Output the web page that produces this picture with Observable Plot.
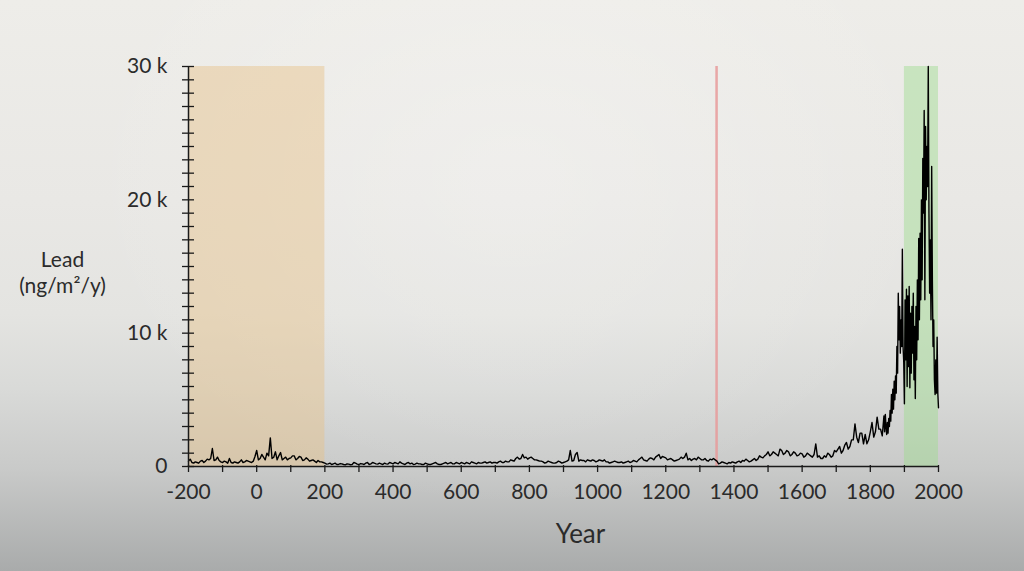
<!DOCTYPE html>
<html>
<head>
<meta charset="utf-8">
<script src="https://cdn.jsdelivr.net/npm/d3@7"></script>
<script src="https://cdn.jsdelivr.net/npm/@observablehq/plot@0.6"></script>
<style>
  html, body { margin: 0; padding: 0; }
  body {
    width: 1024px; height: 571px; overflow: hidden;
    background:
      radial-gradient(ellipse at 50% 30%, rgba(255,255,255,0.25) 0%, rgba(255,255,255,0) 60%),
      linear-gradient(to bottom, #eeede9 0%, #e9e8e5 35%, #e4e4e1 55%, #d9dad8 68%, #c9cac9 82%, #a9abab 100%);
  }
  #chart svg { display: block; }
</style>
</head>
<body>
<div id="chart"></div>
<script>
// Lead deposition (ng/m²/y), 5-year steps from -200 to 1840
const earlyStart = -200;
const earlyStep = 5;
const leadEarly = [
  // -200 .. 200
  400, 550, 300, 250, 350, 300, 250, 400, 450, 300,
  400, 550, 500, 600, 1350, 450, 500, 700, 450, 350,
  300, 400, 350, 250, 600, 300, 250, 350, 300, 250,
  350, 500, 300, 350, 450, 400, 350, 300, 400, 750,
  1200, 500, 600, 900, 700, 500, 1000, 800, 2150, 600,
  700, 1100, 500, 800, 1050, 500, 600, 700, 500, 600,
  650, 800, 800, 500, 600, 750, 700, 450, 500, 650,
  550, 400, 450, 500, 400, 300, 450, 350, 350, 300,
  250,
  // 205 .. 1800, one row per century
  180, 200, 250, 150, 200, 250, 150, 150, 220, 200, 150, 120, 200, 180, 130, 150, 300, 250, 180, 150,
  220, 200, 150, 250, 300, 150, 200, 300, 250, 200, 180, 250, 200, 150, 250, 200, 180, 300, 250, 200,
  300, 250, 200, 350, 250, 200, 150, 250, 300, 200, 250, 150, 180, 250, 200, 200, 150, 150, 250, 200,
  150, 150, 200, 250, 300, 200, 150, 150, 200, 250, 300, 200, 250, 300, 200, 200, 300, 250, 200, 300,
  250, 200, 300, 250, 200, 350, 300, 250, 200, 300, 250, 250, 300, 350, 250, 300, 350, 250, 300, 300,
  250, 350, 400, 300, 300, 400, 350, 350, 500, 450, 400, 600, 700, 550, 600, 900, 650, 700, 550, 650,
  700, 600, 500, 500, 450, 400, 400, 350, 250, 300, 400, 350, 300, 250, 250, 300, 400, 350, 250, 300,
  350, 400, 500, 1200, 400, 450, 900, 1050, 400, 500, 450, 450, 350, 500, 450, 400, 500, 450, 350, 400,
  500, 450, 400, 500, 350, 350, 250, 300, 350, 400, 350, 300, 300, 350, 250, 300, 350, 400, 300, 350,
  450, 400, 350, 500, 600, 700, 500, 450, 400, 550, 650, 600, 500, 700, 800, 900, 600, 750, 700, 650,
  500, 550, 600, 500, 400, 450, 500, 550, 700, 600, 700, 1000, 500, 600, 450, 550, 600, 500, 700, 600,
  500, 500, 600, 450, 400, 550, 500, 600, 500, 400, 200, 250, 350, 300, 250, 200, 300, 250, 350, 300,
  250, 350, 400, 300, 450, 400, 550, 450, 350, 400, 500, 600, 450, 550, 800, 700, 650, 800, 900, 1100,
  800, 900, 1100, 1000, 900, 800, 1300, 1200, 900, 1000, 1200, 1100, 800, 900, 1100, 1000, 800, 850, 1000, 950,
  700, 800, 1000, 900, 800, 700, 900, 1700, 700, 800, 600, 600, 800, 700, 1000, 900, 700, 800, 1200, 1100,
  1300, 1500, 1000, 1200, 1600, 1800, 1300, 1500, 2000, 2000, 3200, 2200, 1800, 2500, 2500, 1700, 2400, 1700, 2000, 2600,
  // 1805 .. 1840
  3300, 2200, 2600, 3700, 2800, 2800, 2300, 3800
];
// 2-year steps from 1842 to 2000
const modernStart = 1842;
const modernStep = 2;
const leadModern = [
  2600, 3900, 3000, 2400, 3300, 2500, 3600, 3000, 4200, 3400,
  5400, 4000, 5800, 4300, 6400, 5000, 6800, 5500, 9000, 7000,
  13000, 9500, 12000, 8500, 11000, 9000, 16300, 9000, 7900, 4700,
  12500, 8000, 13300, 6000, 12800, 7500, 13500, 5900, 11500, 7000,
  12000, 8500, 13000, 6500, 10500, 5100, 12000, 8000, 14000, 9500,
  17100, 11000, 17500, 12500, 20000, 14000, 23100, 19000, 26700, 12500,
  25500, 20000, 24000, 21000, 30000, 19000, 13000, 17000, 11000, 22500,
  14000, 9000, 11000, 6500, 5400, 8000, 5500, 9700, 5500, 4400
];

// Highlighted periods
const bandStarts = [-200, 1900];
const bandEnds = [200, 2000];
const bandColors = ["#e6c088", "#9edb8e"];
const markerYears = [1349];

const xTicksMinor = d3.range(-200, 2001, 100);
const xTicksMajor = d3.range(-200, 2001, 200);
const yTicksMinor = d3.range(0, 30001, 1000);
const yTicksMajor = [0, 10000, 20000, 30000];

const series = [
  ...leadEarly.map((v, i) => ({year: earlyStart + i * earlyStep, lead: v})),
  ...leadModern.map((v, i) => ({year: modernStart + i * modernStep, lead: v}))
];
const bands = bandStarts.map((s, i) => ({start: s, end: bandEnds[i], color: bandColors[i]}));

const ink = "#1a1a1a";
const textColor = "#2b2b2b";

const chart = Plot.plot({
  width: 1024,
  height: 571,
  marginLeft: 188,
  marginRight: 86,
  marginTop: 66,
  marginBottom: 105,
  style: {background: "transparent", fontFamily: "Lato, 'Open Sans', sans-serif", color: textColor},
  x: {domain: [-200, 2000]},
  y: {domain: [0, 30000]},
  marks: [
    Plot.rect(bands, {x1: "start", x2: "end", y1: 0, y2: 30000, fill: "color", fillOpacity: 0.45}),
    Plot.ruleX(markerYears, {y1: 0, y2: 30000, stroke: "#e89a9a", strokeWidth: 2.5, strokeOpacity: 0.85}),
    Plot.line(series, {x: "year", y: "lead", stroke: "#000", strokeWidth: 1.4}),
    Plot.ruleX([-200], {y1: 0, y2: 30000, stroke: ink, strokeWidth: 1.5}),
    Plot.ruleY([0], {stroke: ink, strokeWidth: 1.5}),
    Plot.axisY({ticks: yTicksMinor, tickSize: 12, dx: 6, tickFormat: () => "", label: null, stroke: ink, strokeWidth: 1.3}),
    Plot.axisY({ticks: yTicksMajor, tickSize: 0, tickPadding: 21, label: null, fontSize: 21, fill: textColor,
      tickFormat: d => d === 0 ? "0" : (d / 1000) + " k"}),
    Plot.axisX({ticks: xTicksMinor, tickSize: 7, dy: -1, tickFormat: () => "", label: null, stroke: ink, strokeWidth: 1.3}),
    Plot.axisX({ticks: xTicksMajor, tickSize: 0, tickPadding: 18, label: null, fontSize: 21, fill: textColor,
      tickFormat: d => String(d)}),
    Plot.text(["Year"], {frameAnchor: "bottom", dx: 17, dy: 76, fontSize: 26, fill: textColor, lineAnchor: "bottom"}),
    Plot.text(["Lead\n(ng/m²/y)"], {frameAnchor: "left", dx: -126, dy: 5, textAnchor: "middle", fontSize: 21, lineHeight: 1.25, fill: textColor})
  ]
});
document.getElementById("chart").appendChild(chart);
</script>
</body>
</html>
